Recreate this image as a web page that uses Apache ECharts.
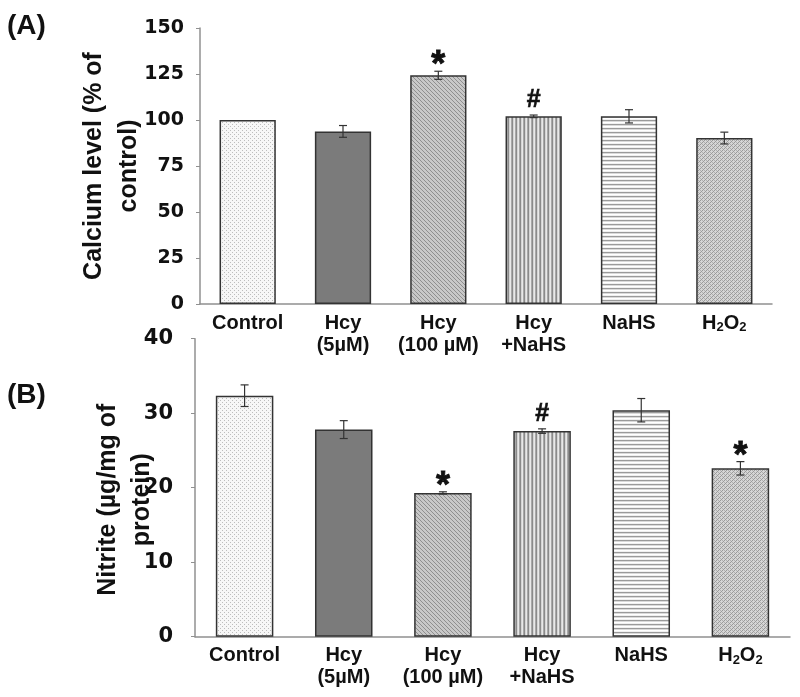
<!DOCTYPE html>
<html><head><meta charset="utf-8">
<script src="https://cdn.jsdelivr.net/npm/echarts@6/dist/echarts.min.js"></script>
<style>html,body{margin:0;padding:0;background:#fff}#c{width:800px;height:697px}</style>
</head><body><div id="c"></div>
<script>
// ---- data ----
const categories = ['Control', 'Hcy\n(5µM)', 'Hcy\n(100 µM)', 'Hcy\n+NaHS', 'NaHS', 'H2O2'];
const calciumValues = [100, 93.8, 124.3, 102, 102, 90.2];
const calciumErrors = [0, 3.2, 2.2, 0.7, 3.6, 3.2];
const calciumMarks  = ['', '', '*', '#', '', ''];
const calciumTicks  = [0, 25, 50, 75, 100, 125, 150];
const nitriteValues = [32.35, 27.8, 19.3, 27.6, 30.4, 22.6];
const nitriteErrors = [1.45, 1.2, 0.15, 0.3, 1.57, 0.9];
const nitriteMarks  = ['', '', '*', '#', '', '*'];
const nitriteTicks  = [0, 10, 20, 30, 40];

// ---- patterns (styles) ----
function tile(w, h, fn) {
  const c = document.createElement('canvas'); c.width = w; c.height = h;
  const g = c.getContext('2d');
  for (let y = 0; y < h; y++) for (let x = 0; x < w; x++) { g.fillStyle = fn(x, y); g.fillRect(x, y, 1, 1); }
  return { image: c, repeat: 'repeat' };
}
const patterns = [
  tile(4, 4, (x, y) => ((x === 0 && y === 0) || (x === 2 && y === 2)) ? '#bdbdbd' : '#f7f7f7'),
  '#7b7b7b',
  tile(4, 4, (x, y) => (x === y) ? '#8f8f8f' : '#c8c8c8'),
  tile(4, 1, (x) => ['#8a8a8a', '#d4d4d4', '#e8e8e8', '#a8a8a8'][x]),
  tile(1, 4, (x, y) => ['#9a9a9a', '#dadada', '#ffffff', '#f0f0f0'][y]),
  tile(4, 4, (x, y) => ((x + y) % 4 === 0) ? '#9a9a9a' : (((x - y + 4) % 4 === 2) ? '#b0b0b0' : '#d6d6d6'))
];

const FONT = '"Liberation Sans", Arial, sans-serif';
const NUMFONT = '"DejaVu Sans", "Liberation Sans", sans-serif';
const chart = echarts.init(document.getElementById('c'), null, { renderer: 'canvas' });

function catLabel(size) {
  return {
    interval: 0, color: '#111', fontFamily: FONT, fontWeight: 'bold', fontSize: size, lineHeight: 22, margin: 8,
    formatter: v => v === 'H2O2' ? 'H{sub|2}O{sub|2}' : v,
    rich: { sub: { fontSize: 13, fontWeight: 'bold', fontFamily: FONT, verticalAlign: 'bottom', padding: [8, 0, 0, 0], color: '#111' } }
  };
}
function barData(vals) {
  return vals.map((v, i) => ({ value: v, itemStyle: { color: patterns[i] } }));
}
function errSeries(vals, errs, marks, xi, yi) {
  return {
    type: 'custom', xAxisIndex: xi, yAxisIndex: yi, z: 5,
    data: vals.map((v, i) => [i, v, errs[i]]),
    renderItem: function (params, api) {
      const i = api.value(0), v = api.value(1), e = api.value(2);
      const t = api.coord([i, v + e]), b = api.coord([i, v - e]);
      const hw = 4, ls = { stroke: '#333', lineWidth: 1.2 };
      const ch = [];
      if (e > 0) {
        ch.push({ type: 'line', shape: { x1: t[0], y1: t[1], x2: b[0], y2: b[1] }, style: ls });
        ch.push({ type: 'line', shape: { x1: t[0] - hw, y1: t[1], x2: t[0] + hw, y2: t[1] }, style: ls });
        ch.push({ type: 'line', shape: { x1: b[0] - hw, y1: b[1], x2: b[0] + hw, y2: b[1] }, style: ls });
      }
      const m = marks[params.dataIndex];
      if (m) {
        const star = m === '*';
        ch.push({ type: 'text', style: {
          text: m, x: t[0], y: t[1] - (star ? 5 : 15), align: 'center', verticalAlign: 'middle',
          font: 'bold ' + (star ? 36 : 25) + 'px ' + FONT, fill: '#111', stroke: '#111', lineWidth: star ? 0.8 : 0.6 } });
      }
      return { type: 'group', children: ch };
    }
  };
}
const axisLine = { lineStyle: { color: '#909090', width: 1.5 } };

chart.setOption({
  animation: false,
  grid: [
    { left: 200, right: 28, top: 28, bottom: 393 },
    { left: 195, right: 10, top: 338.7, bottom: 60.3 }
  ],
  xAxis: [
    { type: 'category', gridIndex: 0, data: categories, axisLine, axisTick: { length: 4, lineStyle: { color: '#909090' } }, axisLabel: catLabel(20) },
    { type: 'category', gridIndex: 1, data: categories, axisLine, axisTick: { length: 4, lineStyle: { color: '#909090' } }, axisLabel: catLabel(20) }
  ],
  yAxis: [
    { type: 'value', gridIndex: 0, min: calciumTicks[0], max: calciumTicks[calciumTicks.length - 1], interval: 25,
      splitLine: { show: false }, axisLine: Object.assign({ show: true }, axisLine), axisTick: { show: true, length: 4, lineStyle: { color: '#909090' } },
      axisLabel: { color: '#111', fontFamily: NUMFONT, fontWeight: 'bold', fontSize: 19, margin: 16 },
      name: 'Calcium level (% of\ncontrol)', nameLocation: 'middle', nameGap: 53, nameRotate: 90, nameMoveOverlap: false,
      nameTextStyle: { color: '#111', fontFamily: FONT, fontWeight: 'bold', fontSize: 25, lineHeight: 35 } },
    { type: 'value', gridIndex: 1, min: nitriteTicks[0], max: nitriteTicks[nitriteTicks.length - 1], interval: 10,
      splitLine: { show: false }, axisLine: Object.assign({ show: true }, axisLine), axisTick: { show: true, length: 4, lineStyle: { color: '#909090' } },
      axisLabel: { color: '#111', fontFamily: NUMFONT, fontWeight: 'bold', fontSize: 21, margin: 22 },
      name: 'Nitrite (µg/mg of\nprotein)', nameLocation: 'middle', nameGap: 36, nameRotate: 90, nameMoveOverlap: false,
      nameTextStyle: { color: '#111', fontFamily: FONT, fontWeight: 'bold', fontSize: 25, lineHeight: 34, padding: [0, 24, 0, 0] } }
  ],
  graphic: [
    { type: 'text', left: 7, top: 12, style: { text: '(A)', font: 'bold 28px ' + FONT, fill: '#111' } },
    { type: 'text', left: 7, top: 381, style: { text: '(B)', font: 'bold 28px ' + FONT, fill: '#111' } }
  ],
  series: [
    { type: 'bar', xAxisIndex: 0, yAxisIndex: 0, barWidth: '59%', data: barData(calciumValues),
      itemStyle: { borderColor: '#333', borderWidth: 1.5 } },
    errSeries(calciumValues, calciumErrors, calciumMarks, 0, 0),
    { type: 'bar', xAxisIndex: 1, yAxisIndex: 1, barWidth: '58%', data: barData(nitriteValues),
      itemStyle: { borderColor: '#333', borderWidth: 1.5 } },
    errSeries(nitriteValues, nitriteErrors, nitriteMarks, 1, 1)
  ]
});
</script></body></html>
